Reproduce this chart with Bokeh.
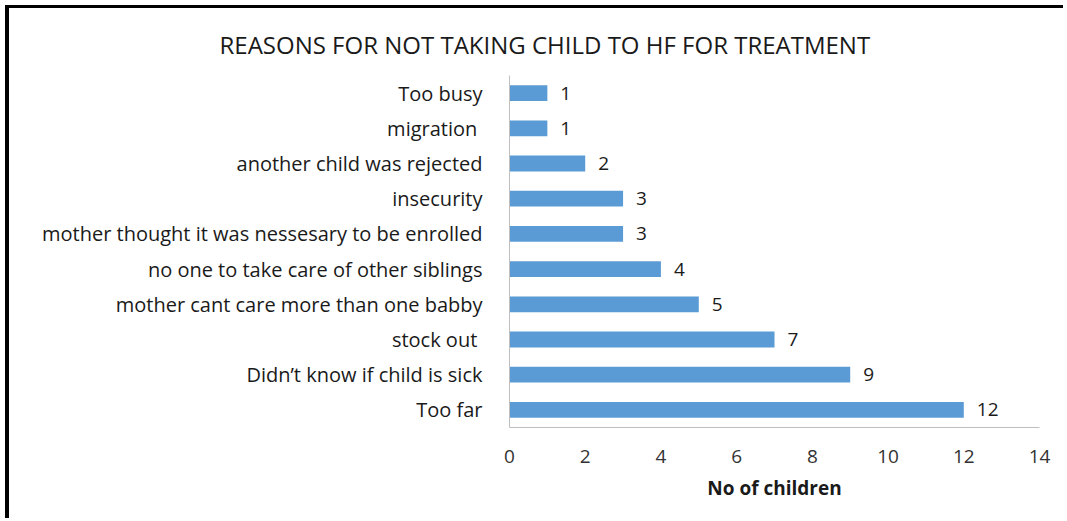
from bokeh.plotting import figure
from bokeh.models import ColumnDataSource, LabelSet, FixedTicker, Range1d, FactorRange
from bokeh.core.properties import value
from bokeh.embed import file_html
from bokeh.resources import INLINE

categories = ["Too far", "Didn\u2019t know if child is sick", "stock out ",
              "mother cant care more than one babby",
              "no one to take care of other siblings",
              "mother thought it was nessesary to be enrolled",
              "insecurity", "another child was rejected", "migration ", "Too busy"]
counts = [12, 9, 7, 5, 4, 3, 3, 2, 1, 1]
x_ticks = [0, 2, 4, 6, 8, 10, 12, 14]
title_text = "REASONS FOR NOT TAKING CHILD TO HF FOR TREATMENT"

src = ColumnDataSource(dict(cat=categories, n=counts, lab=[str(v) for v in counts]))

FONT = "Open Sans"
TXT = "#1a1a1a"
p = figure(width=1058, height=513, output_backend="svg", toolbar_location=None,
           y_range=FactorRange(*categories, range_padding=0),
           x_range=Range1d(0, 14), title=title_text,
           min_border_left=500, min_border_right=28, min_border_top=67, min_border_bottom=94)
p.styles = {"border-left": "4px solid black", "border-top": "3px solid black",
            "margin-left": "5px", "margin-top": "5px"}
p.title.align = "left"
p.title.offset = -290
p.title.standoff = 26
p.title.vertical_align = "top"
p.title.text_font = "Open Sans"
p.title.text_font_size = "24px"
p.title.text_font_style = "normal"
p.title.text_color = TXT
p.outline_line_color = None
p.xgrid.visible = False
p.ygrid.visible = False

p.hbar(y="cat", right="n", left=0, height=0.45, source=src, color="#5B9BD5", line_color=None)

p.add_layout(LabelSet(x="n", y="cat", text="lab", source=src, x_offset=13,
                      text_baseline="middle", text_align="left",
                      text_font=value(FONT), text_font_size="19px", text_color=TXT))

p.xaxis.ticker = FixedTicker(ticks=x_ticks)
p.xaxis.axis_label = "No of children"
p.xaxis.axis_label_text_font = FONT
p.xaxis.axis_label_text_font_style = "bold"
p.xaxis.axis_label_text_font_size = "19px"
p.xaxis.axis_label_text_color = TXT
p.xaxis.axis_label_standoff = 9
p.xaxis.major_label_text_font = FONT
p.xaxis.major_label_text_font_size = "19px"
p.xaxis.major_label_text_color = "#333333"
p.xaxis.major_label_standoff = 16
p.xaxis.major_tick_line_color = None
p.xaxis.minor_tick_line_color = None
p.xaxis.axis_line_color = "#bfbfbf"

p.yaxis.major_label_text_font = FONT
p.yaxis.major_label_text_font_size = "20px"
p.yaxis.major_label_text_color = TXT
p.yaxis.major_label_standoff = 21
p.yaxis.major_tick_line_color = None
p.yaxis.minor_tick_line_color = None
p.yaxis.axis_line_color = "#bfbfbf"

open("out.html", "w").write(file_html(p, INLINE))
